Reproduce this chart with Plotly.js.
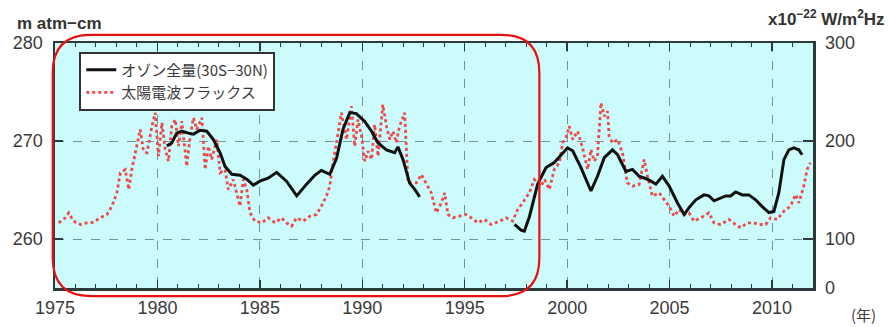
<!DOCTYPE html>
<html>
<head>
<meta charset="utf-8">
<script src="https://cdn.plot.ly/plotly-3.0.1.min.js"></script>
<style>html,body{margin:0;padding:0;background:#fff;}#chart{width:888px;height:327px;}</style>
</head>
<body>
<div id="chart"></div>
<script>
// Total ozone (30S-30N), m atm-cm ; null = gap in record
var ozoneYears = [1980.46,1980.7,1980.94,1981.19,1981.51,1981.76,1982.08,1982.41,1982.73,1983.06,1983.3,1983.63,1984.03,1984.36,1984.68,1985.0,1985.4,1985.82,1986.3,1986.8,1987.28,1987.68,1988.0,1988.41,1988.74,1989.06,1989.39,1989.71,1990.12,1990.45,1990.77,1991.18,1991.58,1991.74,1991.99,1992.31,1992.55,1992.8,
  1995.0,
  1997.43,1997.75,1997.91,1998.16,1998.56,1998.97,1999.37,1999.7,2000.02,2000.27,2000.67,2001.16,2001.48,2001.81,2002.21,2002.46,2002.87,2003.19,2003.51,2003.92,2004.33,2004.65,2004.98,2005.38,2005.71,2005.95,2006.28,2006.68,2006.92,2007.17,2007.49,2007.74,2007.98,2008.22,2008.55,2008.87,2009.2,2009.52,2009.85,2010.09,2010.33,2010.58,2010.82,2011.06,2011.31,2011.47];
var ozoneValues = [269.5,269.8,270.8,271.0,270.8,270.7,271.1,271.0,270.15,268.8,267.4,266.6,266.5,266.1,265.5,265.9,266.2,266.8,265.9,264.4,265.6,266.5,267.0,266.6,268.2,271.2,272.9,272.8,272.0,271.0,269.8,269.1,268.8,269.4,268.1,265.7,265.1,264.3,
  null,
  261.5,260.9,260.8,262.3,265.6,267.3,267.8,268.6,269.3,269.0,267.3,264.9,266.4,268.3,269.1,268.6,266.9,267.1,266.4,266.1,265.6,266.4,265.4,263.7,262.5,263.2,264.0,264.5,264.4,263.9,264.2,264.4,264.4,264.8,264.5,264.5,264.0,263.3,262.7,262.8,264.7,268.1,269.1,269.3,269.1,268.6];

// Solar radio flux, x10^-22 W/m2Hz (read against the right axis)
var fluxYears = [1975.18,1975.5,1975.67,1975.9,1976.24,1976.56,1976.9,1977.2,1977.54,1977.78,1978.02,1978.19,1978.43,1978.6,1978.75,1979.0,1979.16,1979.32,1979.49,1979.73,1979.89,1980.05,1980.22,1980.38,1980.54,1980.7,1980.87,1981.03,1981.19,1981.43,1981.6,1981.76,1981.92,1982.17,1982.33,1982.49,1982.65,1982.9,1983.06,1983.3,1983.46,1983.7,1983.95,1984.03,1984.19,1984.36,1984.52,1984.76,1985.09,1985.41,1985.74,1986.06,1986.3,1986.55,1986.79,1987.11,1987.44,1987.77,1988.0,1988.25,1988.41,1988.57,1988.82,1988.98,1989.23,1989.47,1989.63,1989.79,1989.96,1990.12,1990.28,1990.45,1990.6,1990.77,1991.0,1991.18,1991.34,1991.5,1991.66,1991.82,1992.07,1992.23,1992.39,1992.64,1992.88,1993.12,1993.37,1993.61,1993.86,1994.02,1994.18,1994.42,1994.75,1995.07,1995.32,1995.64,1995.96,1996.29,1996.7,1997.02,1997.34,1997.59,1997.83,1998.15,1998.4,1998.72,1998.9,1999.13,1999.37,1999.62,1999.78,1999.94,2000.1,2000.27,2000.51,2000.75,2001.0,2001.16,2001.32,2001.48,2001.65,2001.81,2001.97,2002.05,2002.21,2002.46,2002.7,2002.94,2003.19,2003.51,2003.76,2003.92,2004.16,2004.49,2004.73,2004.98,2005.22,2005.46,2005.71,2005.95,2006.19,2006.52,2006.92,2007.17,2007.49,2007.9,2008.22,2008.47,2008.79,2009.11,2009.36,2009.69,2009.93,2010.25,2010.58,2010.9,2011.15,2011.31,2011.55,2011.71,2011.87];
var fluxValues = [116.5,121.6,126.7,118.2,114.8,116.5,117.1,121.6,125,133.5,147.1,167.6,170.9,150.5,170.9,198.2,211.7,189.6,188,215.1,228.8,184.5,218.6,191.3,179.4,215.1,221.9,194.7,220.2,174.3,204.9,223.7,211.7,223.7,170.9,194.7,181.1,201.5,167.6,170.9,150.5,160.7,140.3,133.5,160.7,150.5,126.7,118.2,116.5,121.6,116.5,121.6,116.5,113.1,121.6,118.2,123.3,125,133.5,143.7,153.9,177.8,208.4,228.8,201.5,235.5,194.7,221.9,204.9,179.4,189.6,181.1,216.8,184.5,237.2,215.1,201.5,210,198.2,215.1,228.8,157.3,157.3,157.3,165.8,157.3,147.1,126.7,136.9,147.1,125,121.6,123.3,125,121.6,116.5,119.9,114.8,118.2,121.6,118.2,130.1,136.9,147.1,160.7,153.9,160.7,150.5,170.9,177.8,198.2,203.3,215.1,201.5,210,193,170.9,191.3,179.4,184.5,239,225.3,230.4,204.9,198.2,201.5,188,157.3,153.9,155.6,181.1,164.1,143.7,147.1,140.3,133.5,123.3,130.1,125,126.7,118.2,121.6,126.7,116.5,114.8,119.9,114.8,111.4,116.5,116.5,114.8,114.8,121.6,119.9,128.4,133.5,145.4,136.9,153.9,170.9,177.8];

var xTickVals = [1975,1980,1985,1990,1995,2000,2005,2010];
var leftTickVals = [260,270,280];
var rightTickVals = [50,100,200,300];
var rightTickText = ['0','100','200','300'];

var ozoneName = 'オゾン全量(30S−30N)';
var fluxName = '太陽電波フラックス';

var axisCol = '#2b3b3b';
var gridCol = '#7a9494';
var txtCol = '#3a3a3a';
var FONT = 'Liberation Sans, Arial, sans-serif';
var JFONT = 'Noto Sans CJK JP, Liberation Sans, sans-serif';

var traces = [
  {x: ozoneYears, y: ozoneValues, name: ozoneName, type: 'scatter', mode: 'lines',
   yaxis: 'y2', connectgaps: false,
   line: {color: '#111111', width: 3}},
  {x: fluxYears, y: fluxValues, name: fluxName, type: 'scatter', mode: 'lines',
   yaxis: 'y',
   line: {color: 'rgb(238,72,72)', width: 2.8, dash: 'dot'}}
];

// rounded highlight rectangle in paper coordinates
var L = -0.003, R = 0.639, T = 1.033, B = -0.033, rx = 0.05, ry = 0.155;
var rrect = 'M ' + (L+rx) + ',' + T + ' L ' + (R-rx) + ',' + T + ' Q ' + R + ',' + T + ' ' + R + ',' + (T-ry) +
  ' L ' + R + ',' + (B+ry) + ' Q ' + R + ',' + B + ' ' + (R-rx) + ',' + B +
  ' L ' + (L+rx) + ',' + B + ' Q ' + L + ',' + B + ' ' + L + ',' + (B+ry) +
  ' L ' + L + ',' + (T-ry) + ' Q ' + L + ',' + T + ' ' + (L+rx) + ',' + T + ' Z';

var layout = {
  width: 888, height: 327,
  margin: {l: 55, r: 75, t: 43, b: 39},
  paper_bgcolor: '#ffffff',
  plot_bgcolor: '#cbfbfb',
  showlegend: true,
  legend: {x: 0.032, y: 0.965, xanchor: 'left', yanchor: 'top',
    bgcolor: '#ffffff', bordercolor: '#333333', borderwidth: 2,
    font: {family: JFONT, size: 15, color: txtCol}, itemwidth: 30, tracegroupgap: 0},
  xaxis: {range: [1975, 2012], tickvals: xTickVals, ticks: 'inside', ticklen: 8, tickwidth: 1.5,
    tickcolor: axisCol, showline: true, linecolor: axisCol, linewidth: 2.5, mirror: 'ticks',
    showgrid: true, gridcolor: gridCol, griddash: 'dash', gridwidth: 1, zeroline: false,
    minor: {dtick: 1, tick0: 1975, ticks: 'inside', ticklen: 4, tickwidth: 1, tickcolor: axisCol, showgrid: false},
    tickfont: {family: FONT, size: 18, color: txtCol}, ticklabelstandoff: 2},
  yaxis: {side: 'right', range: [50, 300], tickvals: rightTickVals, ticktext: rightTickText,
    ticks: 'inside', ticklen: 10, tickwidth: 1.5, tickcolor: axisCol,
    showline: true, linecolor: axisCol, linewidth: 2.5,
    showgrid: true, gridcolor: gridCol, griddash: 'dash', gridwidth: 1, zeroline: false,
    tickfont: {family: FONT, size: 18, color: txtCol}, ticklabelstandoff: 6},
  yaxis2: {overlaying: 'y', side: 'left', range: [255, 280], tickvals: leftTickVals,
    ticks: 'inside', ticklen: 8, tickwidth: 1.5, tickcolor: axisCol,
    showline: true, linecolor: axisCol, linewidth: 2.5, showgrid: false, zeroline: false,
    tickfont: {family: FONT, size: 18, color: txtCol}, ticklabelstandoff: 6},
  shapes: [{type: 'path', xref: 'paper', yref: 'paper', path: rrect,
    line: {color: '#e81010', width: 2.2}, fillcolor: 'rgba(0,0,0,0)', layer: 'above'}],
  annotations: [
    {text: '<b>m atm−cm</b>', xref: 'paper', yref: 'paper', x: -0.053, y: 1.078,
     xanchor: 'left', yanchor: 'middle', showarrow: false,
     font: {family: FONT, size: 17, color: '#333'}},
    {text: '<b>x10<sup>−22</sup> W/m<sup>2</sup>Hz</b>', xref: 'paper', yref: 'paper', x: 1.097, y: 1.1,
     xanchor: 'right', yanchor: 'middle', showarrow: false,
     font: {family: FONT, size: 17, color: '#333'}},
    {text: '(年)', xref: 'paper', yref: 'paper', x: 1.066, y: -0.108,
     xanchor: 'center', yanchor: 'middle', showarrow: false,
     font: {family: JFONT, size: 15, color: txtCol}}
  ]
};

Plotly.newPlot('chart', traces, layout, {displayModeBar: false, staticPlot: true});
</script>
</body>
</html>
